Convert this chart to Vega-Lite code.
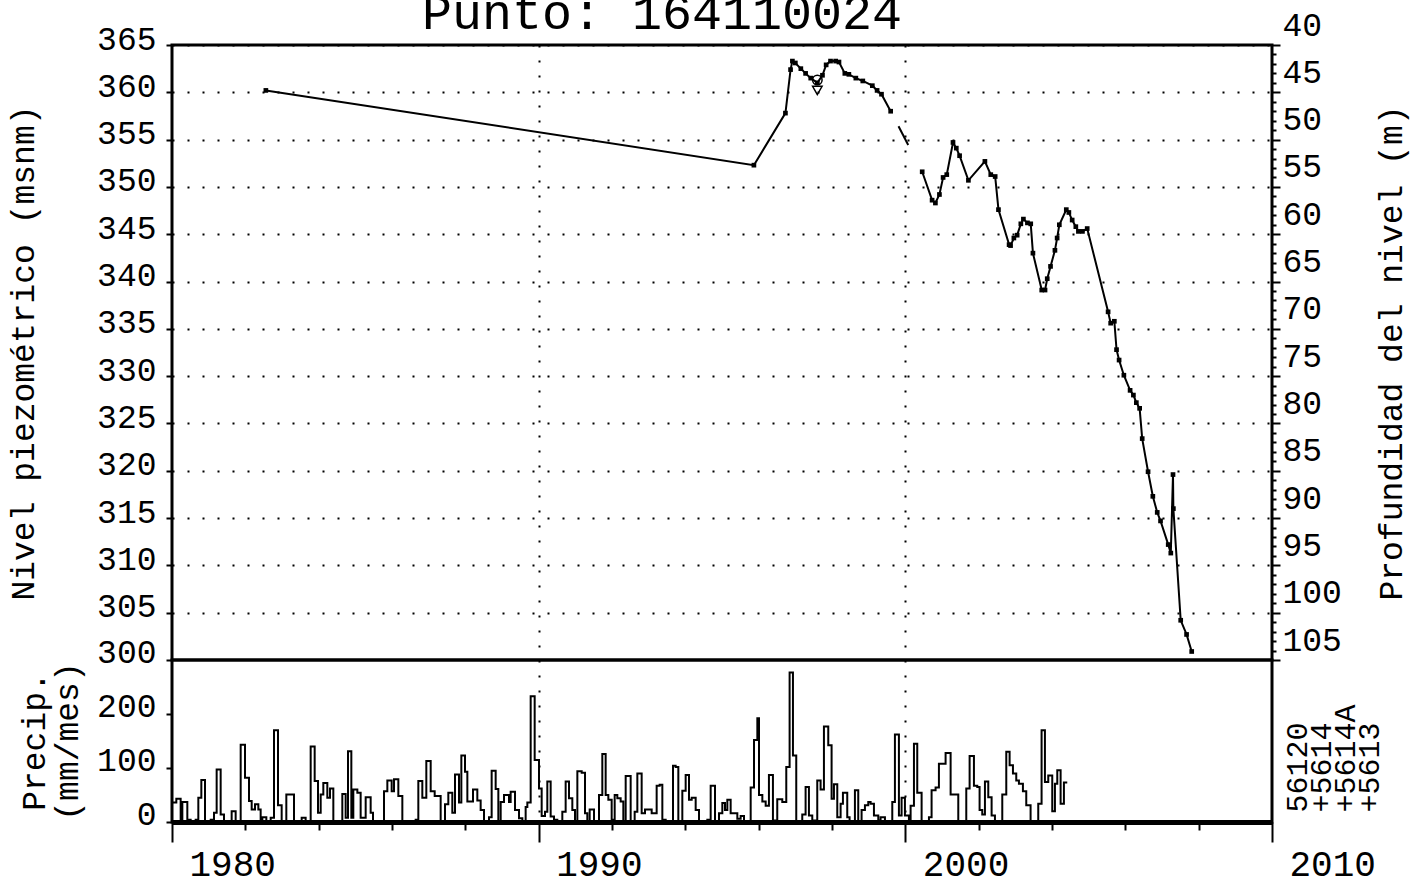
{
  "$schema": "https://vega.github.io/schema/vega-lite/v6.json",
  "autosize": {"type": "pad"},
  "padding": {"left": 6, "top": -12, "right": 0, "bottom": 0},
  "background": "white",
  "title": {"text": "Punto: 164110024", "font": "Liberation Mono", "fontSize": 50, "fontWeight": "normal", "color": "black", "anchor": "middle", "offset": -31, "dx": -46},
  "spacing": 0,
  "bounds": "flush",
  "config": {
    "view": {"stroke": "black", "strokeWidth": 3},
    "axis": {"labelFont": "Liberation Mono", "titleFont": "Liberation Mono", "labelColor": "black", "titleColor": "black", "titleFontWeight": "normal", "tickColor": "black", "tickWidth": 2, "domain": false, "grid": false, "labelOverlap": false, "labelFlush": false, "labelFontSize": 33, "titleFontSize": 33}
  },
  "datasets": {
    "level": [
      {"t": 1982.56, "h": 360.2, "seg": "A"}, {"t": 1995.87, "h": 352.3, "seg": "A"}, {"t": 1996.73, "h": 357.8, "seg": "A"}, {"t": 1996.87, "h": 362.4, "seg": "A"}, {"t": 1996.92, "h": 363.3, "seg": "A"}, {"t": 1997.0, "h": 363.1, "seg": "A"}, {"t": 1997.15, "h": 362.5, "seg": "A"}, {"t": 1997.28, "h": 362.0, "seg": "A"}, {"t": 1997.42, "h": 361.5, "seg": "A"}, {"t": 1997.6, "h": 361.0, "seg": "A"}, {"t": 1997.74, "h": 361.8, "seg": "A"}, {"t": 1997.84, "h": 362.9, "seg": "A"}, {"t": 1997.96, "h": 363.3, "seg": "A"}, {"t": 1998.1, "h": 363.3, "seg": "A"}, {"t": 1998.19, "h": 363.2, "seg": "A"}, {"t": 1998.35, "h": 362.0, "seg": "A"}, {"t": 1998.46, "h": 361.9, "seg": "A"}, {"t": 1998.65, "h": 361.5, "seg": "A"}, {"t": 1998.84, "h": 361.2, "seg": "A"}, {"t": 1999.1, "h": 360.7, "seg": "A"}, {"t": 1999.23, "h": 360.2, "seg": "A"}, {"t": 1999.35, "h": 359.8, "seg": "A"}, {"t": 1999.6, "h": 358.0, "seg": "A"},
      {"t": 2000.46, "h": 351.6, "seg": "B"}, {"t": 2000.73, "h": 348.6, "seg": "B"}, {"t": 2000.82, "h": 348.3, "seg": "B"}, {"t": 2000.93, "h": 349.2, "seg": "B"}, {"t": 2001.03, "h": 351.0, "seg": "B"}, {"t": 2001.13, "h": 351.3, "seg": "B"}, {"t": 2001.3, "h": 354.7, "seg": "B"}, {"t": 2001.39, "h": 354.1, "seg": "B"}, {"t": 2001.48, "h": 353.3, "seg": "B"}, {"t": 2001.72, "h": 350.7, "seg": "B"}, {"t": 2002.17, "h": 352.7, "seg": "B"}, {"t": 2002.33, "h": 351.3, "seg": "B"}, {"t": 2002.45, "h": 351.1, "seg": "B"}, {"t": 2002.54, "h": 347.6, "seg": "B"}, {"t": 2002.83, "h": 343.9, "seg": "B"}, {"t": 2002.87, "h": 343.8, "seg": "B"}, {"t": 2002.96, "h": 344.6, "seg": "B"}, {"t": 2003.05, "h": 344.9, "seg": "B"}, {"t": 2003.15, "h": 346.1, "seg": "B"}, {"t": 2003.22, "h": 346.6, "seg": "B"}, {"t": 2003.33, "h": 346.2, "seg": "B"}, {"t": 2003.42, "h": 346.1, "seg": "B"}, {"t": 2003.48, "h": 343.0, "seg": "B"}, {"t": 2003.72, "h": 339.1, "seg": "B"}, {"t": 2003.81, "h": 339.1, "seg": "B"}, {"t": 2003.87, "h": 340.3, "seg": "B"}, {"t": 2003.96, "h": 341.6, "seg": "B"}, {"t": 2004.08, "h": 343.3, "seg": "B"}, {"t": 2004.14, "h": 344.6, "seg": "B"}, {"t": 2004.2, "h": 346.0, "seg": "B"}, {"t": 2004.39, "h": 347.6, "seg": "B"}, {"t": 2004.46, "h": 347.3, "seg": "B"}, {"t": 2004.55, "h": 346.5, "seg": "B"}, {"t": 2004.65, "h": 345.8, "seg": "B"}, {"t": 2004.72, "h": 345.3, "seg": "B"}, {"t": 2004.83, "h": 345.3, "seg": "B"}, {"t": 2004.96, "h": 345.6, "seg": "B"}, {"t": 2005.53, "h": 336.8, "seg": "B"}, {"t": 2005.6, "h": 335.6, "seg": "B"}, {"t": 2005.7, "h": 335.8, "seg": "B"}, {"t": 2005.76, "h": 332.8, "seg": "B"}, {"t": 2005.83, "h": 331.7, "seg": "B"}, {"t": 2005.96, "h": 330.1, "seg": "B"}, {"t": 2006.13, "h": 328.5, "seg": "B"}, {"t": 2006.22, "h": 328.0, "seg": "B"}, {"t": 2006.3, "h": 327.2, "seg": "B"}, {"t": 2006.39, "h": 326.6, "seg": "B"}, {"t": 2006.46, "h": 323.4, "seg": "B"}, {"t": 2006.62, "h": 319.9, "seg": "B"}, {"t": 2006.75, "h": 317.3, "seg": "B"}, {"t": 2006.87, "h": 315.6, "seg": "B"}, {"t": 2006.96, "h": 314.7, "seg": "B"}, {"t": 2007.17, "h": 312.2, "seg": "B"}, {"t": 2007.24, "h": 311.3, "seg": "B"}, {"t": 2007.3, "h": 319.6, "seg": "B"}, {"t": 2007.31, "h": 316.0, "seg": "B"}, {"t": 2007.51, "h": 304.2, "seg": "B"}, {"t": 2007.67, "h": 302.7, "seg": "B"}, {"t": 2007.81, "h": 300.9, "seg": "B"}
    ],
    "gap": [{"t": 1999.6, "h": 358.0}, {"t": 2000.46, "h": 351.6}],
    "marks": [{"t": 1997.6, "h": 361.3, "shape": "circle"}, {"t": 1997.6, "h": 360.2, "shape": "triangle-down"}],
    "precip": [
      {"t": 1980.0, "p": 36}, {"t": 1980.118, "p": 43}, {"t": 1980.236, "p": 2}, {"t": 1980.282, "p": 37}, {"t": 1980.418, "p": 4}, {"t": 1980.509, "p": 0}, {"t": 1980.645, "p": 4}, {"t": 1980.718, "p": 45}, {"t": 1980.8, "p": 78}, {"t": 1980.9, "p": 2}, {"t": 1980.964, "p": 0}, {"t": 1981.055, "p": 4}, {"t": 1981.145, "p": 17}, {"t": 1981.218, "p": 97}, {"t": 1981.327, "p": 14}, {"t": 1981.418, "p": 0}, {"t": 1981.627, "p": 20}, {"t": 1981.736, "p": 0}, {"t": 1981.873, "p": 143}, {"t": 1981.991, "p": 82}, {"t": 1982.1, "p": 39}, {"t": 1982.173, "p": 23}, {"t": 1982.264, "p": 33}, {"t": 1982.355, "p": 23}, {"t": 1982.418, "p": 0}, {"t": 1982.464, "p": 9}, {"t": 1982.573, "p": 2}, {"t": 1982.691, "p": 8}, {"t": 1982.782, "p": 170}, {"t": 1982.891, "p": 31}, {"t": 1982.991, "p": 0}, {"t": 1983.118, "p": 51}, {"t": 1983.327, "p": 0}, {"t": 1983.536, "p": 8}, {"t": 1983.645, "p": 0}, {"t": 1983.782, "p": 140}, {"t": 1983.891, "p": 76}, {"t": 1983.982, "p": 17}, {"t": 1984.055, "p": 51}, {"t": 1984.127, "p": 72}, {"t": 1984.236, "p": 45}, {"t": 1984.309, "p": 62}, {"t": 1984.4, "p": 0}, {"t": 1984.645, "p": 52}, {"t": 1984.736, "p": 8}, {"t": 1984.8, "p": 131}, {"t": 1984.891, "p": 8}, {"t": 1984.945, "p": 60}, {"t": 1985.055, "p": 54}, {"t": 1985.145, "p": 8}, {"t": 1985.282, "p": 46}, {"t": 1985.418, "p": 17}, {"t": 1985.482, "p": 0}, {"t": 1985.782, "p": 57}, {"t": 1985.873, "p": 77}, {"t": 1985.991, "p": 57}, {"t": 1986.055, "p": 79}, {"t": 1986.173, "p": 48}, {"t": 1986.282, "p": 2}, {"t": 1986.645, "p": 4}, {"t": 1986.718, "p": 76}, {"t": 1986.827, "p": 45}, {"t": 1986.936, "p": 113}, {"t": 1987.055, "p": 57}, {"t": 1987.164, "p": 48}, {"t": 1987.327, "p": 0}, {"t": 1987.445, "p": 33}, {"t": 1987.536, "p": 54}, {"t": 1987.645, "p": 17}, {"t": 1987.718, "p": 88}, {"t": 1987.827, "p": 36}, {"t": 1987.891, "p": 123}, {"t": 1987.991, "p": 93}, {"t": 1988.055, "p": 38},
      {"t": 1988.209, "p": 60}, {"t": 1988.327, "p": 40}, {"t": 1988.418, "p": 22}, {"t": 1988.509, "p": 0}, {"t": 1988.645, "p": 9}, {"t": 1988.718, "p": 95}, {"t": 1988.827, "p": 61}, {"t": 1988.9, "p": 0}, {"t": 1988.964, "p": 37}, {"t": 1989.055, "p": 50}, {"t": 1989.191, "p": 37}, {"t": 1989.236, "p": 56}, {"t": 1989.355, "p": 22}, {"t": 1989.464, "p": 7}, {"t": 1989.555, "p": 0}, {"t": 1989.645, "p": 28}, {"t": 1989.691, "p": 36}, {"t": 1989.782, "p": 233}, {"t": 1989.891, "p": 115}, {"t": 1990.009, "p": 62}, {"t": 1990.082, "p": 11}, {"t": 1990.173, "p": 19}, {"t": 1990.236, "p": 75}, {"t": 1990.327, "p": 10}, {"t": 1990.418, "p": 4}, {"t": 1990.509, "p": 0}, {"t": 1990.645, "p": 19}, {"t": 1990.736, "p": 75}, {"t": 1990.827, "p": 44}, {"t": 1990.918, "p": 22}, {"t": 1990.991, "p": 0}, {"t": 1991.055, "p": 94}, {"t": 1991.173, "p": 91}, {"t": 1991.264, "p": 16}, {"t": 1991.327, "p": 0}, {"t": 1991.391, "p": 23}, {"t": 1991.509, "p": 0}, {"t": 1991.645, "p": 50}, {"t": 1991.736, "p": 126}, {"t": 1991.827, "p": 50}, {"t": 1991.9, "p": 41}, {"t": 1991.991, "p": 4}, {"t": 1992.073, "p": 50}, {"t": 1992.145, "p": 44}, {"t": 1992.236, "p": 38}, {"t": 1992.309, "p": 0}, {"t": 1992.373, "p": 85}, {"t": 1992.509, "p": 0}, {"t": 1992.618, "p": 19}, {"t": 1992.691, "p": 90}, {"t": 1992.809, "p": 16}, {"t": 1992.9, "p": 23}, {"t": 1993.082, "p": 16}, {"t": 1993.218, "p": 67}, {"t": 1993.3, "p": 69}, {"t": 1993.373, "p": 4}, {"t": 1993.464, "p": 0}, {"t": 1993.664, "p": 104}, {"t": 1993.736, "p": 102}, {"t": 1993.809, "p": 0}, {"t": 1993.918, "p": 58}, {"t": 1994.009, "p": 87}, {"t": 1994.1, "p": 41}, {"t": 1994.173, "p": 45}, {"t": 1994.282, "p": 22}, {"t": 1994.373, "p": 0}, {"t": 1994.6, "p": 4}, {"t": 1994.691, "p": 67}, {"t": 1994.809, "p": 0}, {"t": 1994.918, "p": 16}, {"t": 1995.009, "p": 35}, {"t": 1995.082, "p": 22}, {"t": 1995.145, "p": 41}, {"t": 1995.236, "p": 16}, {"t": 1995.418, "p": 6}, {"t": 1995.509, "p": 11}, {"t": 1995.6, "p": 0}, {"t": 1995.782, "p": 64}, {"t": 1995.873, "p": 152}, {"t": 1995.964, "p": 192}, {"t": 1996.009, "p": 50}, {"t": 1996.1, "p": 38}, {"t": 1996.191, "p": 30},
      {"t": 1996.28, "p": 87}, {"t": 1996.389, "p": 3}, {"t": 1996.507, "p": 42}, {"t": 1996.644, "p": 37}, {"t": 1996.753, "p": 102}, {"t": 1996.844, "p": 277}, {"t": 1996.935, "p": 123}, {"t": 1997.025, "p": 0}, {"t": 1997.189, "p": 14}, {"t": 1997.28, "p": 65}, {"t": 1997.371, "p": 12}, {"t": 1997.462, "p": 3}, {"t": 1997.598, "p": 77}, {"t": 1997.689, "p": 60}, {"t": 1997.78, "p": 177}, {"t": 1997.898, "p": 142}, {"t": 1997.989, "p": 43}, {"t": 1998.053, "p": 70}, {"t": 1998.144, "p": 9}, {"t": 1998.235, "p": 34}, {"t": 1998.298, "p": 54}, {"t": 1998.416, "p": 9}, {"t": 1998.48, "p": 0}, {"t": 1998.625, "p": 59}, {"t": 1998.716, "p": 0}, {"t": 1998.807, "p": 22}, {"t": 1998.898, "p": 31}, {"t": 1998.989, "p": 37}, {"t": 1999.053, "p": 34}, {"t": 1999.144, "p": 12}, {"t": 1999.262, "p": 3}, {"t": 1999.325, "p": 9}, {"t": 1999.444, "p": 0}, {"t": 1999.644, "p": 37}, {"t": 1999.716, "p": 162}, {"t": 1999.825, "p": 12}, {"t": 1999.898, "p": 45}, {"t": 1999.989, "p": 12}, {"t": 2000.098, "p": 1}, {"t": 2000.144, "p": 30}, {"t": 2000.235, "p": 145}, {"t": 2000.325, "p": 54}, {"t": 2000.444, "p": 0}, {"t": 2000.644, "p": 9}, {"t": 2000.716, "p": 59}, {"t": 2000.825, "p": 64}, {"t": 2000.916, "p": 108}, {"t": 2001.098, "p": 128}, {"t": 2001.235, "p": 51}, {"t": 2001.444, "p": 0}, {"t": 2001.662, "p": 62}, {"t": 2001.753, "p": 122}, {"t": 2001.871, "p": 67}, {"t": 2001.962, "p": 65}, {"t": 2002.025, "p": 22}, {"t": 2002.098, "p": 14}, {"t": 2002.171, "p": 75}, {"t": 2002.262, "p": 46}, {"t": 2002.353, "p": 12}, {"t": 2002.444, "p": 0}, {"t": 2002.644, "p": 51}, {"t": 2002.753, "p": 130}, {"t": 2002.844, "p": 105}, {"t": 2002.935, "p": 90}, {"t": 2003.025, "p": 77}, {"t": 2003.098, "p": 71}, {"t": 2003.207, "p": 57}, {"t": 2003.298, "p": 31}, {"t": 2003.416, "p": 0}, {"t": 2003.625, "p": 34}, {"t": 2003.716, "p": 170}, {"t": 2003.807, "p": 74}, {"t": 2003.898, "p": 86}, {"t": 2004.007, "p": 20}, {"t": 2004.08, "p": 71}, {"t": 2004.144, "p": 96}, {"t": 2004.235, "p": 34}, {"t": 2004.325, "p": 73}, {"t": 2004.416, "p": 73}
    ]
  },
  "vconcat": [
    {
      "width": 1100,
      "height": 615,
      "layer": [
        {
          "data": {"name": "level"},
          "mark": {"type": "line", "color": "black", "strokeWidth": 2},
          "encoding": {
            "x": {"field": "t", "type": "quantitative", "scale": {"domain": [1980, 2010], "nice": false, "zero": false},
              "axis": {"orient": "bottom", "values": [1990, 2000], "labels": false, "ticks": false, "domain": false, "title": null, "grid": true, "gridDash": [2, 13], "gridWidth": 2, "gridColor": "black", "gridOpacity": 1}},
            "y": {"field": "h", "type": "quantitative", "scale": {"domain": [300, 365], "nice": false, "zero": false},
              "axis": {"orient": "left", "values": [305, 310, 315, 320, 325, 330, 335, 340, 345, 350, 355, 360, 365], "tickSize": 6, "labelPadding": 10, "labelBaseline": "middle", "labelOffset": -6, "title": "Nivel piezométrico (msnm)", "titlePadding": 56, "grid": true, "gridDash": [2, 13], "gridWidth": 2, "gridColor": "black", "gridOpacity": 1}},
            "detail": {"field": "seg"}
          }
        },
        {
          "data": {"name": "level"},
          "mark": {"type": "point", "shape": "square", "filled": true, "size": 22, "color": "black", "opacity": 1},
          "encoding": {
            "x": {"field": "t", "type": "quantitative"},
            "y": {"field": "h", "type": "quantitative",
              "axis": {"orient": "right", "values": [300, 301, 302, 303, 304, 305, 306, 307, 308, 309, 310, 311, 312, 313, 314, 315, 316, 317, 318, 319, 320, 321, 322, 323, 324, 325, 326, 327, 328, 329, 330, 331, 332, 333, 334, 335, 336, 337, 338, 339, 340, 341, 342, 343, 344, 345, 346, 347, 348, 349, 350, 351, 352, 353, 354, 355, 356, 357, 358, 359, 360, 361, 362, 363, 364, 365],
                "labelExpr": "datum.value % 5 == 0 ? 405 - datum.value : ''",
                "tickSize": {"condition": {"test": "datum.value % 5 == 0", "value": 8}, "value": 4},
                "labelPadding": 2, "labelBaseline": "alphabetic", "labelOffset": -10,
                "title": "Profundidad del nivel (m)", "titleAngle": 270, "titlePadding": 67, "grid": false}}
          }
        },
        {
          "data": {"name": "gap"},
          "mark": {"type": "line", "color": "black", "strokeWidth": 2, "strokeDash": [21, 47], "strokeDashOffset": 51},
          "encoding": {
            "x": {"field": "t", "type": "quantitative"},
            "y": {"field": "h", "type": "quantitative", "axis": null}
          }
        },
        {
          "data": {"name": "marks"},
          "mark": {"type": "point", "filled": false, "color": "black", "strokeWidth": 1.5, "size": 90, "opacity": 1},
          "encoding": {
            "x": {"field": "t", "type": "quantitative"},
            "y": {"field": "h", "type": "quantitative", "axis": null},
            "shape": {"field": "shape", "type": "nominal", "scale": {"domain": ["circle", "triangle-down"], "range": ["circle", "triangle-down"]}, "legend": null}
          }
        }
      ],
      "resolve": {"axis": {"y": "independent"}}
    },
    {
      "width": 1100,
      "height": 162,
      "data": {"name": "precip"},
      "layer": [
        {
          "mark": {"type": "line", "interpolate": "step-after", "color": "black", "strokeWidth": 2},
          "encoding": {
            "x": {"field": "t", "type": "quantitative", "scale": {"domain": [1980, 2010], "nice": false, "zero": false},
              "axis": {"orient": "bottom", "values": [1980, 1981, 1982, 1983, 1984, 1985, 1986, 1987, 1988, 1989, 1990, 1991, 1992, 1993, 1994, 1995, 1996, 1997, 1998, 1999, 2000, 2001, 2002, 2003, 2004, 2005, 2006, 2007, 2008, 2009, 2010],
                "labelExpr": "datum.value % 10 == 0 ? datum.value : ''",
                "tickSize": {"condition": {"test": "datum.value % 10 == 0", "value": 20}, "value": 8},
                "labelFontSize": 36, "labelPadding": 5, "labelAlign": "left", "labelOffset": 17,
                "domain": true, "domainWidth": 5, "domainColor": "black",
                "grid": true, "gridOpacity": {"condition": {"test": "datum.value == 1990 || datum.value == 2000", "value": 1}, "value": 0},
                "gridDash": [2, 13], "gridWidth": 2, "gridColor": "black",
                "title": "(años)", "titleFontSize": 48, "titlePadding": 0}},
            "y": {"field": "p", "type": "quantitative", "scale": {"domain": [0, 300], "nice": false, "zero": true},
              "axis": {"orient": "left", "values": [0, 100, 200, 300], "tickSize": 6, "labelPadding": 10, "labelBaseline": "middle", "labelOffset": -8,
                "title": ["Precip.", "(mm/mes)"], "titleLineHeight": 33, "titlePadding": 12}}
          }
        },
        {
          "mark": {"type": "line", "interpolate": "step-after", "color": "black", "strokeWidth": 1, "opacity": 0},
          "encoding": {
            "x": {"field": "t", "type": "quantitative"},
            "y": {"field": "p", "type": "quantitative",
              "axis": {"orient": "right", "values": [], "labels": false, "ticks": false, "domain": false, "grid": false,
                "title": ["56120", "+5614", "+5614A", "+5613"], "titleAngle": 270, "titleFontSize": 30, "titleLineHeight": 24,
                "titleX": 10, "titleY": 152, "titleAlign": "left", "titleBaseline": "top"}}
          }
        }
      ],
      "resolve": {"axis": {"y": "independent"}}
    }
  ]
}
